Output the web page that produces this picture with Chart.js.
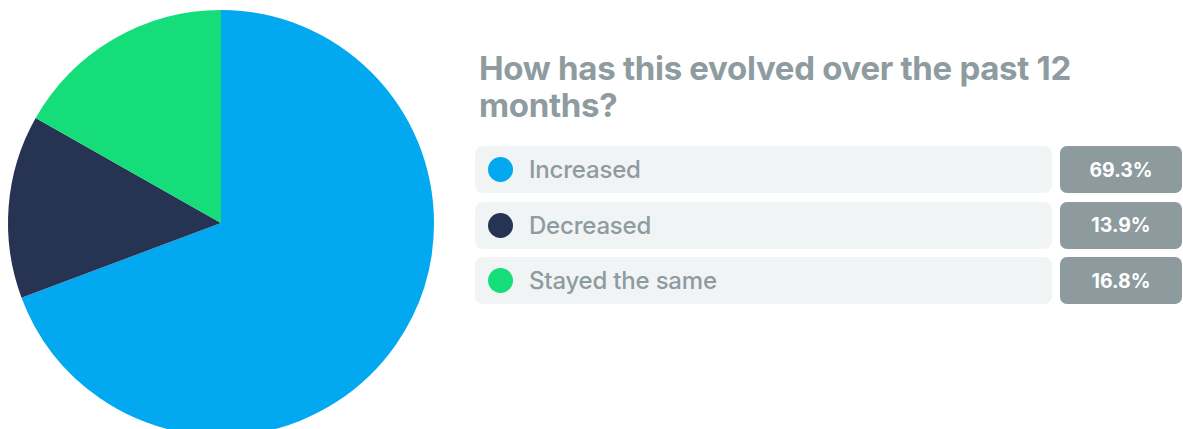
<!DOCTYPE html>
<html>
<head>
<meta charset="utf-8">
<script src="https://cdn.jsdelivr.net/npm/chart.js@4"></script>
<style>
  html, body { margin: 0; padding: 0; background: #fff; }
  body { width: 1183px; height: 429px; overflow: hidden; position: relative; font-family: Inter, "Noto Sans", sans-serif; }
  #pie-wrap { position: absolute; left: 0; top: 0; width: 442px; height: 446px; }
  #panel { position: absolute; left: 475px; top: 0; width: 708px; }
  #title { margin: 50px 0 0 4px; font-size: 33px; line-height: 36.5px; font-weight: 700; color: #8e9b9f; letter-spacing: -0.3px; }
  #rows { position: absolute; top: 146px; left: 0; }
  .row { display: flex; height: 47px; margin-bottom: 8.5px; }
  .label { width: 577px; height: 47px; background: #f1f4f5; border-radius: 8px; display: flex; align-items: center; box-sizing: border-box; padding-left: 13px; }
  .dot { width: 25px; height: 25px; border-radius: 50%; margin-right: 16px; }
  .label span { font-size: 24px; font-weight: 500; color: #8e9b9f; letter-spacing: -0.2px; }
  .val { margin-left: 8px; width: 122px; height: 47px; background: #8d9b9f; border-radius: 7px; display: flex; align-items: center; justify-content: center; color: #fff; font-weight: 700; font-size: 19.5px; }
</style>
</head>
<body>
<div id="pie-wrap"><canvas id="chart-evolution"></canvas></div>
<div id="panel">
  <div id="title">How has this evolved over the past 12<br>months?</div>
  <div id="rows"></div>
</div>
<script>
const answers = ['Increased', 'Decreased', 'Stayed the same'];
const shares = [69.3, 13.9, 16.8];
const sliceColors = ['#03a9f0', '#273352', '#15dd7a'];

// legend rows next to the pie
const rows = document.getElementById('rows');
answers.forEach(function(answer, i) {
  const row = document.createElement('div');
  row.className = 'row';
  row.innerHTML =
    '<div class="label"><div class="dot" style="background:' + sliceColors[i] + '"></div><span>' + answer + '</span></div>' +
    '<div class="val">' + shares[i].toFixed(1) + '%</div>';
  rows.appendChild(row);
});

const ctx = document.getElementById('chart-evolution').getContext('2d');
const pieChart = new Chart(ctx, {
  type: 'pie',
  data: {
    labels: answers,
    datasets: [{
      data: shares,
      backgroundColor: sliceColors,
      borderWidth: 0
    }]
  },
  options: {
    responsive: true,
    maintainAspectRatio: false,
    animation: false,
    layout: { padding: 8 },
    plugins: {
      legend: { display: false },
      tooltip: { enabled: false }
    }
  }
});
</script>
</body>
</html>
